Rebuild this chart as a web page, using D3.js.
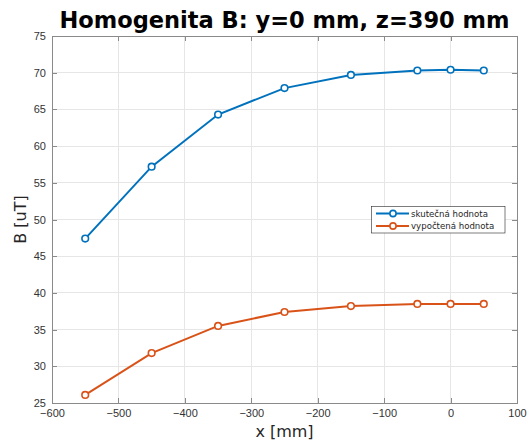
<!DOCTYPE html>
<html><head><meta charset="utf-8">
<script src="https://cdn.jsdelivr.net/npm/d3@7"></script>
<style>body{margin:0;background:#fff}svg{display:block;font-family:"DejaVu Sans",sans-serif}</style>
</head><body><svg id="c" width="532" height="441"></svg>
<script>
const xPos = [-550,-450,-350,-250,-150,-50,0,50];
const skutecna = [47.4,57.2,64.3,67.9,69.7,70.3,70.4,70.3];
const vypoctena = [26.1,31.8,35.5,37.4,38.2,38.5,38.5,38.5];
const xTicks = [-600,-500,-400,-300,-200,-100,0,100];
const yTicks = [25,30,35,40,45,50,55,60,65,70,75];
const seriesNames = ["skutečná hodnota","vypočtená hodnota"];
const colors = ["#0072BD","#D95319"];

const svg = d3.select("#c");
const L=52,R=517,T=36,B=403;
const x = d3.scaleLinear().domain([-600,100]).range([L,R]);
const y = d3.scaleLinear().domain([25,75]).range([B,T]);

// grid
svg.append("g").selectAll("line").data(xTicks).join("line")
  .attr("x1",d=>x(d)).attr("x2",d=>x(d)).attr("y1",T).attr("y2",B)
  .attr("stroke","#e6e6e6").attr("stroke-width",1).attr("shape-rendering","crispEdges");
svg.append("g").selectAll("line").data(yTicks).join("line")
  .attr("x1",L).attr("x2",R).attr("y1",d=>y(d)).attr("y2",d=>y(d))
  .attr("stroke","#e6e6e6").attr("stroke-width",1).attr("shape-rendering","crispEdges");

// axes
const axCol="#8a8a8a", txtCol="#333";
function styleAxis(g){g.select(".domain").attr("stroke",axCol);g.selectAll(".tick line").attr("stroke",axCol);g.selectAll("text").attr("fill",txtCol).attr("font-size","11px");g.attr("shape-rendering","crispEdges");}
svg.append("g").attr("transform",`translate(0,${B})`)
  .call(d3.axisBottom(x).tickValues(xTicks).tickSizeInner(-5).tickSizeOuter(0).tickPadding(6).tickFormat(d3.format("d")))
  .call(styleAxis);
svg.append("g").attr("transform",`translate(0,${T})`)
  .call(d3.axisTop(x).tickValues(xTicks).tickSizeInner(-5).tickSizeOuter(0).tickFormat(""))
  .call(styleAxis);
svg.append("g").attr("transform",`translate(${L},0)`)
  .call(d3.axisLeft(y).tickValues(yTicks).tickSizeInner(-5).tickSizeOuter(0).tickPadding(6))
  .call(styleAxis);
svg.append("g").attr("transform",`translate(${R},0)`)
  .call(d3.axisRight(y).tickValues(yTicks).tickSizeInner(-5).tickSizeOuter(0).tickFormat(""))
  .call(styleAxis);

// series
const line = d3.line().x((d,i)=>x(xPos[i])).y(d=>y(d));
[skutecna,vypoctena].forEach((s,k)=>{
  svg.append("path").datum(s).attr("d",line).attr("fill","none").attr("stroke",colors[k]).attr("stroke-width",2);
  svg.append("g").selectAll("circle").data(s).join("circle")
    .attr("cx",(d,i)=>x(xPos[i])).attr("cy",d=>y(d)).attr("r",3.3)
    .attr("fill","#fff").attr("stroke",colors[k]).attr("stroke-width",1.6);
});

// title & labels
svg.append("text").attr("x",(L+R)/2).attr("y",28).attr("text-anchor","middle")
  .attr("font-weight","bold").attr("font-size","22.5px").attr("fill","#000").text("Homogenita B: y=0 mm, z=390 mm");
svg.append("text").attr("x",(L+R)/2).attr("y",437).attr("text-anchor","middle")
  .attr("font-size","16px").attr("fill","#262626").text("x [mm]");
svg.append("text").attr("transform",`translate(26,${(T+B)/2}) rotate(-90)`).attr("text-anchor","middle")
  .attr("font-size","16px").attr("fill","#262626").text("B [uT]");

// legend
const lg = svg.append("g");
lg.append("rect").attr("x",371.5).attr("y",206.5).attr("width",133.5).attr("height",26.5)
  .attr("fill","#fff").attr("stroke","#262626").attr("stroke-width",0.6);
seriesNames.forEach((n,k)=>{
  const yy = 213.5+k*12.5;
  lg.append("line").attr("x1",376).attr("x2",409).attr("y1",yy).attr("y2",yy).attr("stroke",colors[k]).attr("stroke-width",2);
  lg.append("circle").attr("cx",393).attr("cy",yy).attr("r",3.1).attr("fill","#fff").attr("stroke",colors[k]).attr("stroke-width",1.6);
  lg.append("text").attr("x",411).attr("y",yy+3.2).attr("font-size","8.6px").attr("fill","#262626").text(n);
});
</script></body></html>
